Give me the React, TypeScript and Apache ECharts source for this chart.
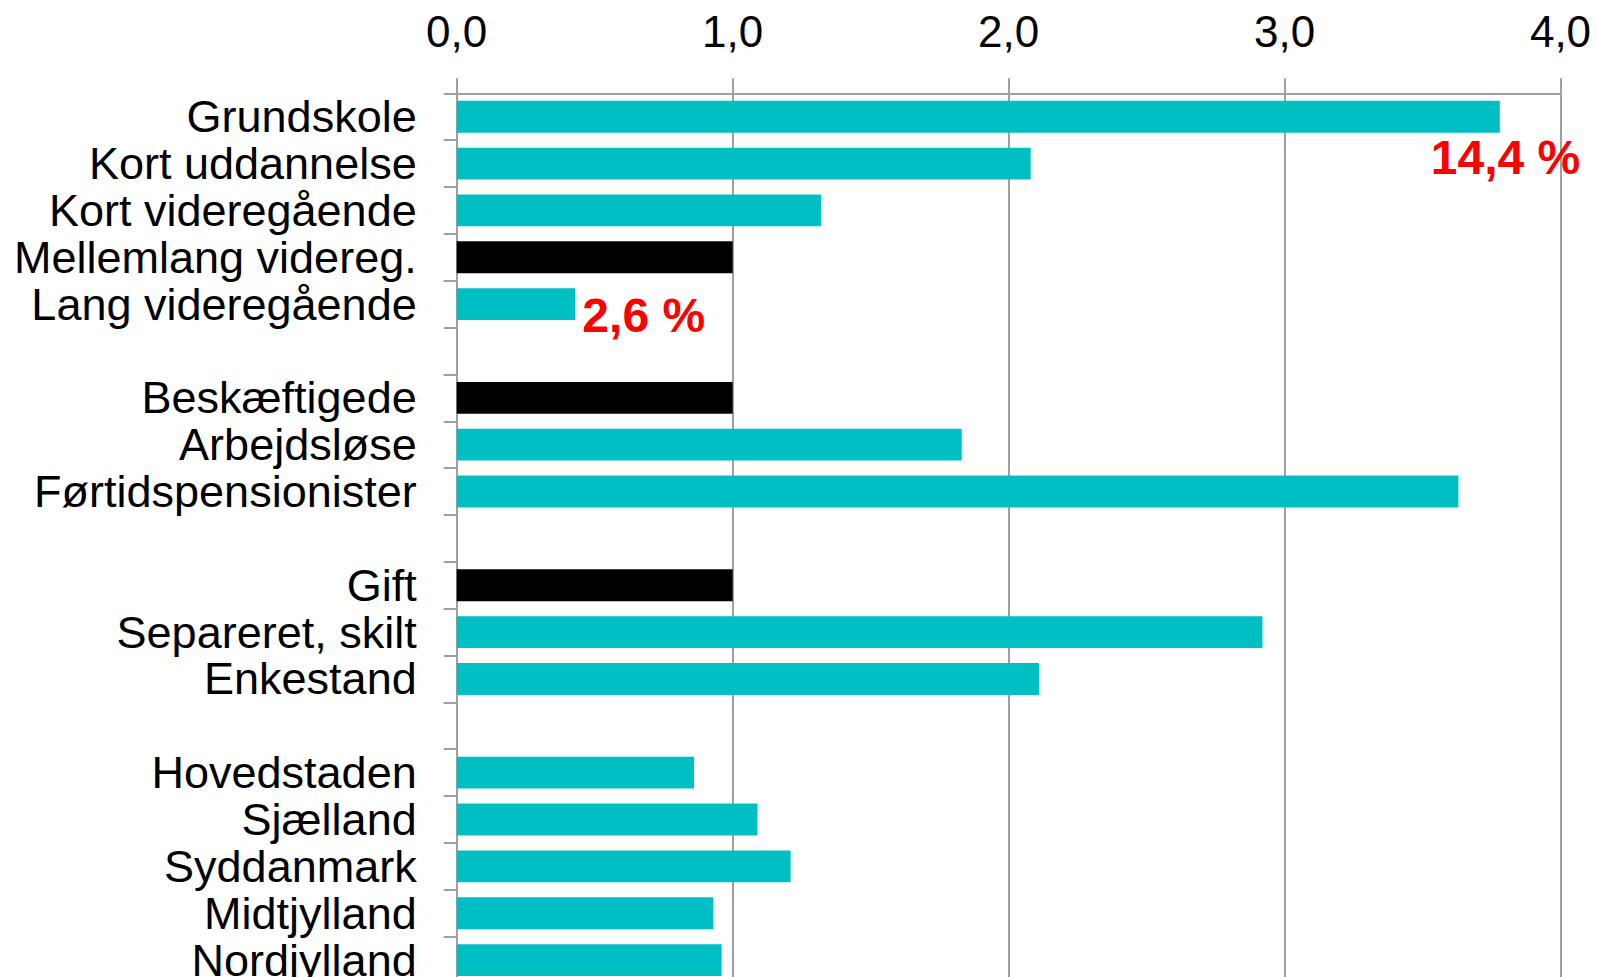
import React, { useEffect, useRef } from "react";
import * as echarts from "echarts";

const categories = [
  "Grundskole",
  "Kort uddannelse",
  "Kort videregående",
  "Mellemlang videreg.",
  "Lang videregående",
  " ",
  "Beskæftigede",
  "Arbejdsløse",
  "Førtidspensionister",
  "  ",
  "Gift",
  "Separeret, skilt",
  "Enkestand",
  "   ",
  "Hovedstaden",
  "Sjælland",
  "Syddanmark",
  "Midtjylland",
  "Nordjylland",
];

const values: (number | null)[] = [
  3.78, 2.08, 1.32, 1.0, 0.43, null, 1.0, 1.83, 3.63, null, 1.0, 2.92, 2.11, null, 0.86,
  1.09, 1.21, 0.93, 0.96,
];

const referenceCategories = ["Mellemlang videreg.", "Beskæftigede", "Gift"];

const annotationCategories = ["Grundskole", "Lang videregående"];
const annotationTexts = ["14,4 %", "2,6 %"];

const xMin = 0;
const xMax = 4;
const xInterval = 1;

const TEAL = "#00BFC4";
const GRID = "#a0a0a0";
const FONT = "'Liberation Sans', Arial, sans-serif";

const labelOffsets: Record<string, [number, number]> = {
  Grundskole: [-74, 41],
  "Lang videregående": [2, 11],
};

export default function App() {
  const ref = useRef<HTMLDivElement>(null);

  useEffect(() => {
    if (!ref.current) return;
    const chart = echarts.init(ref.current, undefined, { renderer: "svg" });

    const data = categories.map((c, i) => {
      const v = values[i];
      const isRef = referenceCategories.includes(c);
      const annIdx = annotationCategories.indexOf(c);
      const item: any = {
        value: v,
        itemStyle: { color: isRef ? "#000000" : TEAL },
      };
      if (annIdx >= 0) {
        item.label = {
          show: true,
          position: "right",
          distance: 5,
          offset: labelOffsets[c],
          formatter: annotationTexts[annIdx],
          color: "#ff0000",
          fontWeight: "bold",
          fontSize: 48,
          fontFamily: FONT,
        };
      }
      return item;
    });

    chart.setOption({
      animation: false,
      backgroundColor: "#ffffff",
      grid: {
        left: 456.7,
        right: 36.5,
        top: 93.3,
        height: 890.2,
        containLabel: false,
        outerBoundsMode: "none",
      },
      xAxis: {
        type: "value",
        position: "top",
        min: xMin,
        max: xMax,
        interval: xInterval,
        axisLine: { show: true, lineStyle: { color: GRID, width: 2 } },
        axisTick: { show: true, inside: false, length: 15, lineStyle: { color: GRID, width: 2 } },
        splitLine: { show: true, lineStyle: { color: GRID, width: 2 } },
        axisLabel: {
          color: "#000000",
          fontSize: 44,
          fontFamily: FONT,
          margin: 40,
          formatter: (v: number) => v.toFixed(1).replace(".", ","),
        },
      },
      yAxis: {
        type: "category",
        inverse: true,
        data: categories,
        axisLine: { show: true, lineStyle: { color: GRID, width: 2 } },
        axisTick: { show: true, inside: false, length: 13, lineStyle: { color: GRID, width: 2 } },
        axisLabel: {
          color: "#000000",
          fontSize: 45,
          fontFamily: FONT,
          margin: 40,
          interval: 0,
        },
      },
      series: [
        {
          type: "bar",
          data,
          barCategoryGap: "32%",
          label: { show: false },
        },
      ],
    });

    return () => chart.dispose();
  }, []);

  return (
    <div
      ref={ref}
      style={{ position: "fixed", left: 0, top: 0, width: 1597, height: 977, background: "#fff" }}
    />
  );
}
